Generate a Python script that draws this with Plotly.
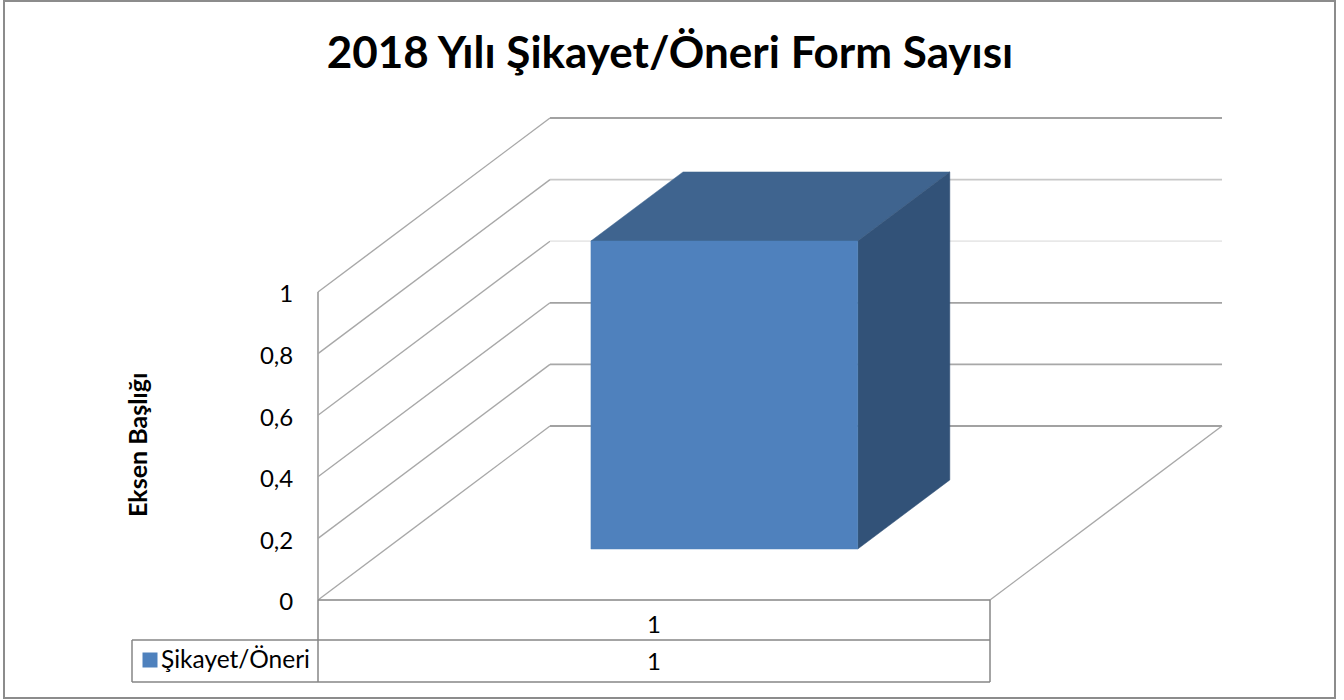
import plotly.graph_objects as go

# ---- data ----
title_text = "2018 Yılı Şikayet/Öneri Form Sayısı"
y_title = "Eksen Başlığı"
categories = ["1"]
series_name = "Şikayet/Öneri"
series_values = [1]
y_ticks = [0, 0.2, 0.4, 0.6, 0.8, 1]
y_tick_labels = ["0", "0,2", "0,4", "0,6", "0,8", "1"]
back_grid_colors = ["#a2a2a2", "#a8a8a8", "#a2a2a2", "#e8e8e8", "#c8c8c8", "#a2a2a2"]

# ---- oblique projection and canvas geometry ----
W, H = 1344, 700
X0, X1, Y0, Y1 = 318, 990, 600, 292      # front plane in pixels: category span, value 0..1
UX = X1 - X0
UY = Y0 - Y1
DEPTH_X = 232 / UX      # x shift (category units) of the back wall
DEPTH_Y = 174 / UY      # y shift (value units) of the back wall
BAR_X = (0.305, 0.702)  # bar span inside the category
BAR_D = (0.293, 0.69)   # bar span in depth
FONT = "Lato, Carlito, Calibri, sans-serif"
LINE = "#868686"
DIAG = "#a8a8a8"


def proj(x, v, d):
    return x + d * DEPTH_X, v + d * DEPTH_Y


def poly(points, color, name):
    xs, ys = zip(*[proj(*p) for p in points])
    return go.Scatter(x=list(xs) + [xs[0]], y=list(ys) + [ys[0]], mode="lines", fill="toself",
                      fillcolor=color, line=dict(color=color, width=0.5), name=name,
                      hoverinfo="name", showlegend=False)


def seg(a, b, color, width=1.0):
    xs, ys = zip(*[proj(*p) for p in (a, b)])
    return go.Scatter(x=list(xs), y=list(ys), mode="lines", line=dict(color=color, width=width),
                      hoverinfo="skip", showlegend=False)


def tx(px):   # pixel column -> category units
    return (px - X0) / UX


def ty(py):   # pixel row -> value units
    return (Y0 - py) / UY


fig = go.Figure()

# left wall and back wall gridlines
for v, c in zip(y_ticks, back_grid_colors):
    fig.add_trace(seg((0, v, 0), (0, v, 1), DIAG, 1.4))
    fig.add_trace(seg((0, v, 1), (1, v, 1), c, 1.8))
# floor edge
fig.add_trace(seg((1, 0, 0), (1, 0, 1), DIAG, 1.4))
# vertical axis line
fig.add_trace(seg((0, 0, 0), (0, y_ticks[-1], 0), "#a6a6a6", 1.8))

# bar
val = series_values[0]
x0, x1 = BAR_X
d0, d1 = BAR_D
fig.add_trace(poly([(x0, val, d0), (x1, val, d0), (x1, val, d1), (x0, val, d1)], "#3f648f", series_name + " top"))
fig.add_trace(poly([(x1, 0, d0), (x1, val, d0), (x1, val, d1), (x1, 0, d1)], "#325278", series_name + " side"))
fig.add_trace(poly([(x0, 0, d0), (x1, 0, d0), (x1, val, d0), (x0, val, d0)], "#4f81bd", series_name))

# data table
row1, row2 = ty(640), ty(682)
legend_left = tx(132)
for a, b in [
    ((0, 0, 0), (1, 0, 0)),
    ((0, row1, 0), (1, row1, 0)),
    ((0, row2, 0), (1, row2, 0)),
    ((legend_left, row1, 0), (0, row1, 0)),
    ((legend_left, row2, 0), (0, row2, 0)),
    ((legend_left, row1, 0), (legend_left, row2, 0)),
    ((0, 0, 0), (0, row2, 0)),
    ((1, 0, 0), (1, row2, 0)),
]:
    fig.add_trace(seg(a, b, LINE, 1.5))

fig.add_trace(go.Scatter(
    x=[0.5, 0.5], y=[ty(627), ty(664)], mode="text",
    text=[categories[0], str(series_values[0])],
    textfont=dict(family=FONT, size=24, color="#000000"),
    hoverinfo="skip", showlegend=False))
fig.add_trace(go.Scatter(
    x=[tx(150)], y=[ty(660)], mode="markers",
    marker=dict(symbol="square", size=15, color="#4f81bd"),
    hoverinfo="skip", showlegend=False))
fig.add_trace(go.Scatter(
    x=[tx(161)], y=[ty(662)], mode="text", text=[series_name], textposition="middle right",
    textfont=dict(family=FONT, size=24.5, color="#000000"),
    hoverinfo="skip", showlegend=False))

fig.update_layout(
    width=W, height=H,
    margin=dict(l=0, r=0, t=0, b=0),
    paper_bgcolor="#ffffff", plot_bgcolor="#ffffff",
    showlegend=False,
    title=dict(text=title_text, x=670 / W, xanchor="center", y=1 - 53 / H, yanchor="middle",
               font=dict(family=FONT, size=44, color="#000000", weight="bold")),
    xaxis=dict(visible=False, range=[tx(0), tx(W)], domain=[0, 1], fixedrange=True),
    yaxis=dict(range=[ty(H), ty(0)], domain=[0, 1], anchor="free", position=X0 / W,
               tickmode="array", tickvals=y_ticks, ticktext=y_tick_labels,
               ticks="outside", ticklen=20, tickcolor="rgba(0,0,0,0)", ticklabelshift=2,
               tickfont=dict(family=FONT, size=24, color="#000000"),
               showgrid=False, zeroline=False, showline=False, fixedrange=True),
    shapes=[dict(type="rect", xref="paper", yref="paper", x0=4 / W, x1=1335 / W, y0=1 - 698 / H, y1=1 - 1 / H,
                 line=dict(color="#8c8c8c", width=2), fillcolor="rgba(0,0,0,0)")],
    annotations=[dict(text=y_title, xref="paper", yref="paper", x=137 / W, y=1 - 445 / H,
                      textangle=-90, showarrow=False, xanchor="center", yanchor="middle",
                      font=dict(family=FONT, size=25, color="#000000", weight="bold"))],
)

fig.write_html("out.html", config=dict(displayModeBar=False),
               post_script="document.body.style.margin='0';document.body.style.overflow='hidden';")
